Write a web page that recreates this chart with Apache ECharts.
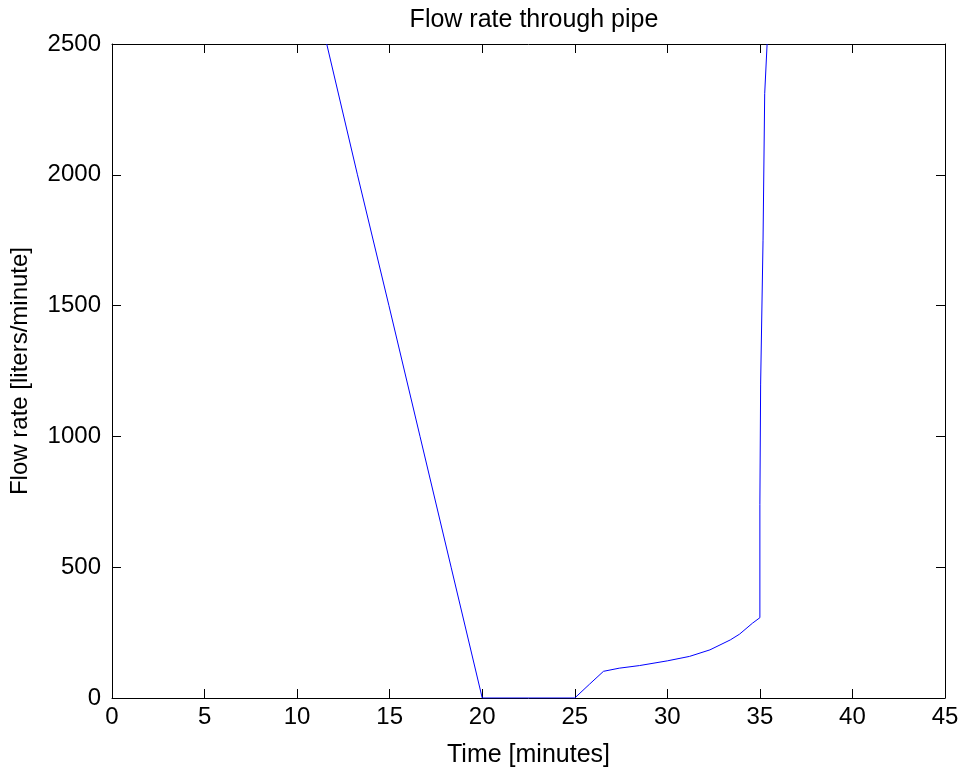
<!DOCTYPE html>
<html>
<head>
<meta charset="utf-8">
<script src="https://cdn.jsdelivr.net/npm/echarts@6/dist/echarts.min.js"></script>
<style>
html,body{margin:0;padding:0;background:#fff;}
#container1{width:962px;height:773px;}
</style>
</head>
<body>
<div id="container1"></div>
<script>
// time in minutes, flow in liters/minute
var timeVals = [11.6, 13.26, 14.96, 16.64, 18.32, 20.0, 25.0, 25.8, 26.55, 27.4, 28.5, 30.0, 31.2, 32.3, 33.4, 33.9, 34.6, 35.0, 35.0, 35.04, 35.17, 35.26, 35.39];
var flowVals = [2500, 2000, 1500, 1000, 500, 0, 0, 53, 102, 114, 124, 142, 159, 184, 222, 244, 286, 307, 740, 1200, 1750, 2310, 2500];
var xTicks = [0, 45, 5];
var yTicks = [0, 2500, 500];

var font = "'Liberation Sans', Arial, Helvetica, sans-serif";

var points = [];
for (var i = 0; i < timeVals.length; ++i) {
	points[i] = [timeVals[i], flowVals[i]];
}

function xAxisOf(pos, showLabels) {
	return {
		type: 'value', position: pos, min: xTicks[0], max: xTicks[1], interval: xTicks[2],
		name: showLabels ? 'Time [minutes]' : '',
		nameLocation: 'middle', nameGap: 45,
		nameTextStyle: {color: '#000', fontSize: 25, fontFamily: font},
		axisLine: {show: true, onZero: false, lineStyle: {color: '#000', width: 1}},
		axisTick: {show: true, inside: true, length: 9, lineStyle: {color: '#000'}},
		axisLabel: {show: showLabels, color: '#000', fontSize: 24, fontFamily: font, margin: 7},
		splitLine: {show: false}
	};
}
function yAxisOf(pos, showLabels) {
	return {
		type: 'value', position: pos, min: yTicks[0], max: yTicks[1], interval: yTicks[2],
		name: showLabels ? 'Flow rate [liters/minute]' : '',
		nameLocation: 'middle', nameGap: 80,
		nameTextStyle: {color: '#000', fontSize: 24, fontFamily: font},
		axisLine: {show: true, onZero: false, lineStyle: {color: '#000', width: 1}},
		axisTick: {show: true, inside: true, length: 9, lineStyle: {color: '#000'}},
		axisLabel: {show: showLabels, color: '#000', fontSize: 24, fontFamily: font, margin: 11,
			formatter: function (v) { return String(v); }},
		splitLine: {show: false}
	};
}

var myChart = echarts.init(document.getElementById('container1'));
var option = {
	backgroundColor: '#fff',
	animation: false,
	title: {
		text: 'Flow rate through pipe',
		left: 529, top: 3, textAlign: 'center',
		textStyle: {color: '#000', fontSize: 25, fontWeight: 'normal', fontFamily: font}
	},
	grid: {left: 112, right: 17, top: 44, bottom: 73},
	xAxis: [xAxisOf('bottom', true), xAxisOf('top', false)],
	yAxis: [yAxisOf('left', true), yAxisOf('right', false)],
	series: [
		{
			name: 'Flow rate',
			type: 'line',
			data: points,
			showSymbol: false,
			clip: true,
			lineStyle: {color: '#0000ff', width: 1},
			itemStyle: {color: '#0000ff'}
		}
	]
};
myChart.setOption(option);
</script>
</body>
</html>
